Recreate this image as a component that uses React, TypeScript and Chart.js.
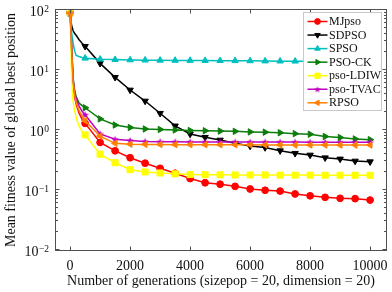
import React, { useEffect, useRef } from "react";
import { Chart, registerables } from "chart.js";
import { drawPoint } from "chart.js/helpers";

Chart.register(...registerables);

// ---- data ----
const generations = [
  0, 25, 50, 100, 150, 200, 300, 400, 500, 1000, 1500, 2000, 2500, 3000, 3500, 4000,
  4500, 5000, 5500, 6000, 6500, 7000, 7500, 8000, 8500, 9000, 9500, 10000,
];
const seriesNames = ["MJpso", "SDPSO", "SPSO", "PSO-CK", "pso-LDIW", "pso-TVAC", "RPSO"];
const mjpso = [
  89, 45, 22, 6.0, 3.6, 2.7, 1.9, 1.5, 1.29, 0.62, 0.45, 0.345, 0.28, 0.23, 0.19, 0.155,
  0.132, 0.125, 0.115, 0.104, 0.099, 0.096, 0.086, 0.08, 0.0755, 0.0727, 0.0718, 0.068,
];
const sdpso = [
  89, 70, 55, 45, 41, 38, 32, 28, 24.8, 12.9, 7.55, 4.64, 3.04, 1.9, 1.17, 0.857, 0.755,
  0.68, 0.6, 0.54, 0.51, 0.452, 0.409, 0.383, 0.345, 0.329, 0.304, 0.296,
];
const spso = [
  89, 65, 42, 28, 21, 17.5, 16.8, 16.2, 15.7, 15.1, 14.9, 14.7, 14.6, 14.5, 14.45, 14.4,
  14.35, 14.3, 14.25, 14.2, 14.1, 14.05, 14.0, 13.95, 13.9, 13.8, 13.75, 13.7,
];
const psoCk = [
  89, 52, 25, 7.5, 4.6, 3.6, 2.8, 2.55, 2.35, 1.53, 1.21, 1.1, 1.04, 1.02, 1.0, 0.98, 0.97,
  0.96, 0.95, 0.93, 0.92, 0.9, 0.87, 0.85, 0.78, 0.75, 0.71, 0.69,
];
const psoLdiw = [
  89, 30, 8, 3.0, 2.1, 1.65, 1.15, 0.95, 0.83, 0.395, 0.285, 0.218, 0.2, 0.192, 0.186,
  0.181, 0.18, 0.179, 0.178, 0.178, 0.178, 0.177, 0.177, 0.177, 0.176, 0.176, 0.176, 0.176,
];
const psoTvac = [
  89, 52, 24, 7.0, 4.3, 3.3, 2.5, 2.05, 1.8, 0.86, 0.7, 0.67, 0.645, 0.64, 0.635, 0.633,
  0.632, 0.631, 0.63, 0.63, 0.629, 0.628, 0.628, 0.627, 0.627, 0.626, 0.626, 0.625,
];
const rpso = [
  89, 50, 23, 6.5, 3.9, 2.9, 2.1, 1.7, 1.43, 0.79, 0.6, 0.58, 0.575, 0.572, 0.57, 0.57,
  0.569, 0.568, 0.567, 0.566, 0.565, 0.564, 0.563, 0.562, 0.562, 0.561, 0.561, 0.56,
];
const allSeries = [mjpso, sdpso, spso, psoCk, psoLdiw, psoTvac, rpso];
const xTicks = [0, 2000, 4000, 6000, 8000, 10000];
const yTicks = [0.01, 0.1, 1, 10, 100];
const yTickExponents = ["\u22122", "\u22121", "0", "1", "2"];
const xTitle = "Number of generations (sizepop = 20, dimension = 20)";
const yTitle = "Mean fitness value of global best position";

// ---- styles ----
const colors = ["#FF0000", "#000000", "#00BFBF", "#0A7D0A", "#FFFF00", "#BF00BF", "#FF8000"];
const styles: any[] = ["circle", "triangle", "triangle", "triangle", "rect", "star5", "triangle"];
const rotations = [0, 180, 0, 90, 0, 0, -90];
const radii = [3.4, 3.7, 3.7, 3.7, 4.3, 4.0, 3.7];
const SERIF = "'Liberation Serif', 'Times New Roman', serif";

function makePentagram(color: string, r: number): HTMLCanvasElement {
  const size = Math.ceil(r * 2) + 1;
  const c = document.createElement("canvas");
  c.width = size;
  c.height = size;
  const g = c.getContext("2d")!;
  const cx = size / 2;
  const cy = size / 2 + 0.4;
  g.beginPath();
  for (let i = 0; i < 10; i++) {
    const rr = i % 2 === 0 ? r : r * 0.42;
    const ang = -Math.PI / 2 + (i * Math.PI) / 5;
    const px = cx + rr * Math.cos(ang);
    const py = cy + rr * Math.sin(ang);
    if (i === 0) g.moveTo(px, py);
    else g.lineTo(px, py);
  }
  g.closePath();
  g.fillStyle = color;
  g.fill();
  return c;
}

const frame = {
  id: "frame",
  afterDraw(chart: any) {
    const { ctx, chartArea: a, scales } = chart;
    const xs = scales.x;
    const ys = scales.y;
    ctx.save();
    // box
    ctx.strokeStyle = "#505050";
    ctx.lineWidth = 1;
    ctx.strokeRect(a.left - 0.5, a.top - 0.5, a.right - a.left + 1, a.bottom - a.top + 1);
    // x ticks
    ctx.beginPath();
    for (const t of xTicks) {
      const px = Math.round(xs.getPixelForValue(t)) + 0.5;
      ctx.moveTo(px, a.bottom);
      ctx.lineTo(px, a.bottom - 3.5);
      ctx.moveTo(px, a.top);
      ctx.lineTo(px, a.top + 3.5);
    }
    // y ticks (major + minor)
    for (let d = 0; d < yTicks.length; d++) {
      const base = yTicks[d];
      const py = Math.round(ys.getPixelForValue(base)) - 0.5;
      ctx.moveTo(a.left, py);
      ctx.lineTo(a.left + 3.5, py);
      ctx.moveTo(a.right, py);
      ctx.lineTo(a.right - 3.5, py);
      if (d < yTicks.length - 1) {
        for (let m = 2; m <= 9; m++) {
          const my = Math.round(ys.getPixelForValue(base * m)) - 0.5;
          ctx.moveTo(a.left, my);
          ctx.lineTo(a.left + 2, my);
          ctx.moveTo(a.right, my);
          ctx.lineTo(a.right - 2, my);
        }
      }
    }
    ctx.stroke();

    // tick labels
    ctx.fillStyle = "#111";
    ctx.font = `14px ${SERIF}`;
    ctx.textAlign = "center";
    ctx.textBaseline = "alphabetic";
    for (const t of xTicks) {
      ctx.fillText(String(t), xs.getPixelForValue(t), 270);
    }
    for (let d = 0; d < yTicks.length; d++) {
      const py = ys.getPixelForValue(yTicks[d]);
      ctx.font = `9.5px ${SERIF}`;
      const ew = ctx.measureText(yTickExponents[d]).width;
      ctx.textAlign = "right";
      const rightX = 49;
      ctx.fillText(yTickExponents[d], rightX, py + 1.5);
      ctx.font = `14px ${SERIF}`;
      ctx.fillText("10", rightX - ew - 0.5, py + 5.5);
    }
    // titles
    ctx.font = `14px ${SERIF}`;
    ctx.textAlign = "center";
    ctx.fillText(xTitle, (a.left + a.right) / 2, 285);
    ctx.save();
    ctx.translate(15, (a.top + a.bottom) / 2);
    ctx.rotate(-Math.PI / 2);
    ctx.fillText(yTitle, 0, 0);
    ctx.restore();

    // legend
    const lx = 303.5;
    const ly = 12.5;
    const lw = 78;
    const lh = 98;
    ctx.fillStyle = "#ffffff";
    ctx.fillRect(lx, ly, lw, lh);
    ctx.strokeStyle = "#c8c8c8";
    ctx.lineWidth = 1;
    ctx.strokeRect(lx, ly, lw, lh);
    const datasets = chart.data.datasets;
    ctx.font = `12px ${SERIF}`;
    ctx.textAlign = "left";
    ctx.textBaseline = "middle";
    for (let i = 0; i < datasets.length; i++) {
      const ds = datasets[i];
      const ry = 21.5 + i * 13.55;
      ctx.strokeStyle = ds.borderColor;
      ctx.lineWidth = 1.5;
      ctx.beginPath();
      ctx.moveTo(307.5, ry);
      ctx.lineTo(327.5, ry);
      ctx.stroke();
      ctx.fillStyle = ds.borderColor;
      ctx.strokeStyle = ds.borderColor;
      ctx.lineWidth = 1;
      drawPoint(ctx, {
        pointStyle: ds.legendStyle,
        rotation: ds.pointRotation,
        radius: ds.legendRadius,
        borderWidth: 1,
      } as any, 317.5, ry);
      ctx.fillStyle = "#111";
      ctx.fillText(ds.label, 329, ry + 0.5);
    }
    ctx.restore();
  },
};

export default function App() {
  const ref = useRef<HTMLCanvasElement | null>(null);
  useEffect(() => {
    document.body.style.margin = "0";
    const canvas = ref.current;
    if (!canvas) return;
    const datasets = allSeries.map((vals, i) => {
      const ps = styles[i] === "star5" ? makePentagram(colors[i], radii[i]) : styles[i];
      const lps = styles[i] === "star5" ? makePentagram(colors[i], radii[i] * 0.85) : styles[i];
      return {
        label: seriesNames[i],
        data: generations.map((g, k) => ({ x: g, y: vals[k] })),
        borderColor: colors[i],
        backgroundColor: colors[i],
        pointBackgroundColor: colors[i],
        pointBorderColor: colors[i],
        borderWidth: 1.5,
        pointStyle: ps,
        legendStyle: lps,
        pointRotation: rotations[i],
        pointBorderWidth: 1,
        legendRadius: radii[i] * 0.85,
        pointRadius: (c: any) => (generations[c.dataIndex] % 500 === 0 ? radii[i] : 0),
        pointHoverRadius: 0,
        tension: 0,
        order: allSeries.length - 1 - i,
      };
    });
    const chart = new Chart(canvas, {
      type: "line",
      data: { datasets: datasets as any },
      options: {
        animation: false,
        responsive: false,
        devicePixelRatio: 1,
        layout: { padding: { left: 56, right: 6, top: 10, bottom: 42 } },
        scales: {
          x: { type: "linear", min: -470, max: 10530, display: false },
          y: { type: "logarithmic", min: 0.01, max: 100, display: false },
        },
        plugins: { legend: { display: false }, tooltip: { enabled: false } },
        events: [],
      },
      plugins: [frame],
    });
    return () => chart.destroy();
  }, []);
  return (
    <div style={{ position: "fixed", left: 0, top: 0, width: 392, height: 292, background: "#fff" }}>
      <canvas ref={ref} width={392} height={292} style={{ display: "block" }} />
    </div>
  );
}
